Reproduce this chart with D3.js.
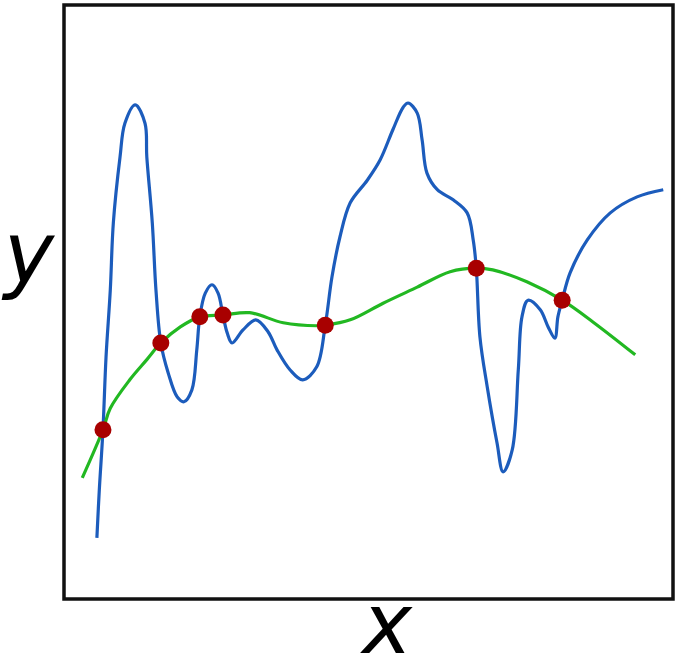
<!DOCTYPE html>
<html>
<head>
<meta charset="utf-8">
<script src="https://cdn.jsdelivr.net/npm/d3@7"></script>
<style>
html,body{margin:0;padding:0;background:#fff;}
svg{display:block;}
</style>
</head>
<body>
<svg id="chart" width="685" height="660"></svg>
<script>
// Blue (interpolating) curve
const blueX = [5.4,5.8,6.4,6.9,7.6,8.1,9.2,10.0,11.7,13.3,13.6,14.5,15.1,15.9,17.1,18.6,19.7,21.0,21.8,22.3,23.2,24.3,25.3,26.1,26.8,27.6,29.4,31.5,33.5,35.0,37.1,39.2,41.5,42.9,44.0,45.3,47.0,49.8,51.9,54.0,55.7,56.5,58.0,58.8,59.6,61.3,63.9,66.2,67.2,67.7,68.3,69.5,71.1,72.1,73.6,74.6,75.2,76.2,78.2,79.5,80.6,81.1,81.8,83.1,85.9,89.7,94.1,98.4];
const blueY = [10.3,18.4,28.5,40.7,52.0,63.3,74.4,80.1,83.2,80.1,74.4,63.3,52.0,43.1,38.1,34.0,33.2,35.2,41.9,47.5,51.5,52.9,51.5,47.8,44.8,43.1,45.3,47.0,45.0,41.9,38.6,36.9,39.1,46.1,54.2,60.9,66.7,70.5,73.9,79.0,82.8,83.5,81.8,77.3,71.7,68.9,67.2,65.0,60.4,55.7,44.1,35.7,26.3,21.4,25.1,38.6,47.5,50.3,48.7,45.8,43.9,47.5,50.3,54.9,60.4,65.0,67.7,68.9];
// Green (smooth fit) curve
const greenX = [3.0,6.4,7.6,10.8,13.6,15.9,19.1,22.3,26.1,30.5,36.0,41.5,42.9,47.0,52.4,58.0,63.4,67.7,70.4,76.0,81.8,86.9,93.8];
const greenY = [20.4,28.5,32.1,36.9,40.3,43.1,45.8,47.5,47.8,48.2,46.5,46.0,46.1,47.0,49.8,52.5,55.1,55.7,55.4,53.4,50.3,46.6,41.1];
// Intersection points
const dotX = [6.4,15.9,22.3,26.1,42.9,67.7,81.8];
const dotY = [28.5,43.1,47.5,47.8,46.1,55.7,50.3];
const xLabel = "x";
const yLabel = "y";

const svg = d3.select("#chart");
const box = {left:64, top:5, right:673, bottom:599};
const x = d3.scaleLinear().domain([0,100]).range([box.left, box.right]);
const y = d3.scaleLinear().domain([0,100]).range([box.bottom, box.top]);

const blue = blueX.map((v,i)=>[v, blueY[i]]);
const green = greenX.map((v,i)=>[v, greenY[i]]);
const dots = dotX.map((v,i)=>[v, dotY[i]]);

const line = d3.line().x(d=>x(d[0])).y(d=>y(d[1])).curve(d3.curveCatmullRom.alpha(0.5));

svg.append("path").attr("d", line(blue))
  .attr("fill","none").attr("stroke","#1c5cbc").attr("stroke-width",3.2)
  .attr("stroke-linejoin","round").attr("stroke-linecap","butt");

svg.append("path").attr("d", line(green))
  .attr("fill","none").attr("stroke","#22b822").attr("stroke-width",3.2)
  .attr("stroke-linecap","butt");

svg.selectAll("circle.dot").data(dots).enter().append("circle")
  .attr("class","dot")
  .attr("cx", d=>x(d[0])).attr("cy", d=>y(d[1])).attr("r", 8.5)
  .attr("fill","#a80000");

svg.append("rect")
  .attr("x", box.left).attr("y", box.top)
  .attr("width", box.right-box.left).attr("height", box.bottom-box.top)
  .attr("fill","none").attr("stroke","#111").attr("stroke-width",3.5);

svg.append("text").text(yLabel)
  .attr("x", 29).attr("y", 282).attr("text-anchor","middle")
  .attr("font-family","DejaVu Sans").attr("font-style","italic")
  .attr("font-size", 85).attr("fill","#000");

svg.append("text").text(xLabel)
  .attr("x", 387).attr("y", 653).attr("text-anchor","middle")
  .attr("font-family","DejaVu Sans").attr("font-style","italic")
  .attr("font-size", 84).attr("fill","#000");
</script>
</body>
</html>
